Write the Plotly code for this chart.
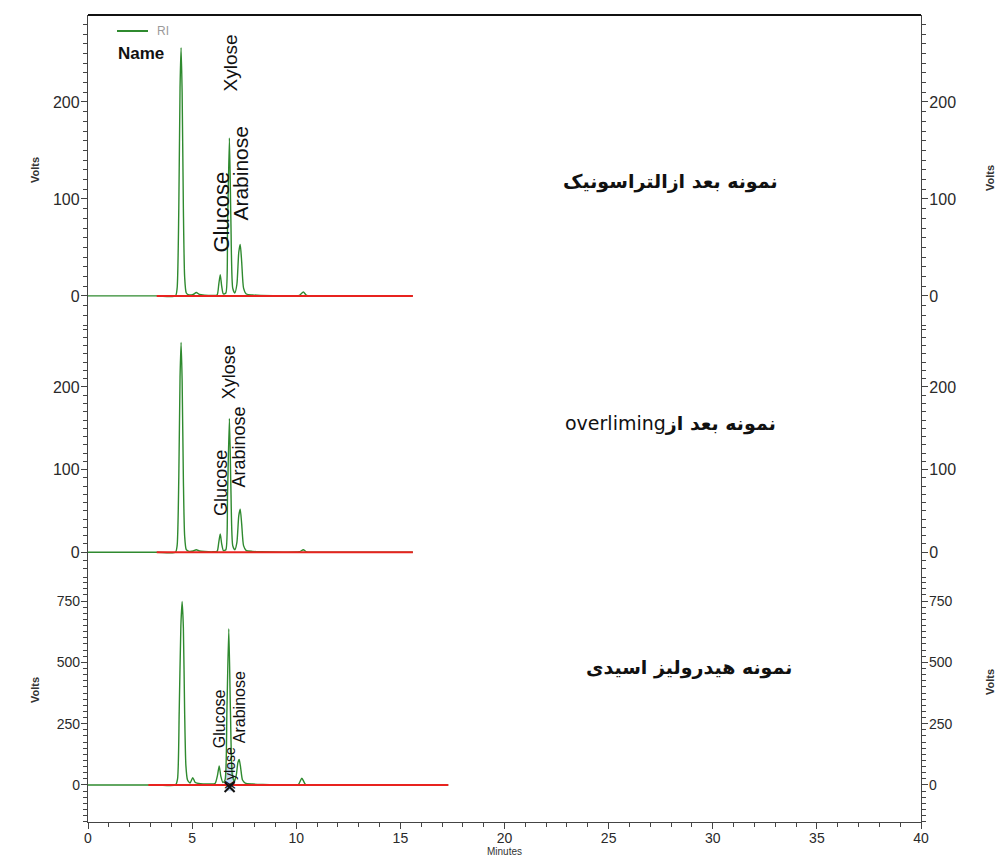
import plotly.graph_objects as go

# ---- chromatogram readings (retention time in minutes, detector signal in volts) ----
ultra_t = [0.0, 3.3, 4.20, 4.28, 4.36, 4.42, 4.47, 4.52, 4.58, 4.64, 4.72, 4.85, 5.05, 5.20, 5.35,
           5.60, 6.00, 6.20, 6.28, 6.35, 6.42, 6.50, 6.62, 6.70, 6.79, 6.86, 6.95, 7.05, 7.15, 7.24,
           7.31, 7.38, 7.47, 7.60, 7.90, 8.30, 9.50, 10.15, 10.34, 10.50, 11.50, 15.6]
ultra_v = [0, 0, 0, 8, 90, 215, 256, 210, 90, 20, 3, 1, 1.5, 3.5, 1.5,
           0.8, 0.5, 1, 12, 22, 10, 2, 3, 70, 163, 80, 8, 3, 12, 45,
           53, 35, 8, 2, 1, 0.5, 0, 0.5, 4, 0.5, 0, 0]

over_t = [0.0, 3.3, 4.20, 4.28, 4.36, 4.42, 4.47, 4.52, 4.58, 4.64, 4.72, 4.85, 5.05, 5.20, 5.35,
          5.60, 6.00, 6.20, 6.28, 6.35, 6.42, 6.50, 6.62, 6.70, 6.79, 6.86, 6.95, 7.05, 7.15, 7.24,
          7.31, 7.38, 7.47, 7.60, 7.90, 8.30, 9.50, 10.15, 10.34, 10.50, 11.50, 15.6]
over_v = [0, 0, 0, 8, 90, 212, 254, 208, 88, 20, 3, 1, 1.5, 3, 1.5,
          0.8, 0.5, 1, 12, 22, 10, 2, 3, 70, 162, 80, 8, 3, 12, 44,
          52, 34, 8, 2, 1, 0.5, 0, 0.5, 3, 0.5, 0, 0]

acid_t = [0.0, 3.3, 4.20, 4.30, 4.38, 4.46, 4.52, 4.58, 4.64, 4.70, 4.78, 4.90, 5.03, 5.15, 5.40,
          5.80, 6.10, 6.22, 6.30, 6.38, 6.48, 6.58, 6.67, 6.76, 6.84, 6.93, 7.03, 7.12, 7.20, 7.26,
          7.33, 7.42, 7.55, 7.90, 8.40, 9.50, 10.10, 10.27, 10.45, 11.50, 17.3]
acid_v = [0, 0, 0, 25, 300, 650, 748, 640, 300, 80, 20, 8, 30, 10, 5,
          4, 6, 40, 78, 35, 10, 20, 300, 637, 300, 40, 15, 40, 92, 104,
          70, 20, 8, 4, 2, 0, 2, 28, 2, 0, 0]

# integration baselines (start, end) per run
ultra_base = [3.3, 15.6]
over_base = [3.3, 15.6]
acid_base = [2.9, 17.3]

sample_names = ["نمونه بعد ازالتراسونیک", "نمونه بعد از", "نمونه هیدرولیز اسیدی"]
over_suffix = "overliming"
peak_names = ["Glucose", "Xylose", "Arabinose"]

GREEN = "#2f8a2f"
RED = "#e8231f"
AX = "#444444"
FONT = "Liberation Sans Narrow, Liberation Sans, Arial, sans-serif"

# plot-area pixel frame used to place paper-referenced decorations
W, H = 997, 861
L, R, T, B = 88, 921, 15, 822


def px(xp):
    return (xp - L) / (R - L)


def py(yp):
    return (B - yp) / (B - T)


fig = go.Figure()

runs = [(ultra_t, ultra_v, ultra_base, "y"),
        (over_t, over_v, over_base, "y2"),
        (acid_t, acid_v, acid_base, "y3")]
for t, v, base, ya in runs:
    fig.add_trace(go.Scatter(x=t, y=v, mode="lines", yaxis=ya, xaxis="x",
                             line=dict(color=GREEN, width=1.4, shape="spline", smoothing=0.6),
                             showlegend=False, hoverinfo="skip"))
    fig.add_trace(go.Scatter(x=base, y=[0, 0], mode="lines", yaxis=ya, xaxis="x",
                             line=dict(color=RED, width=2), showlegend=False, hoverinfo="skip"))

# carrier traces for the right-hand axes
for ya in ["y4", "y5", "y6"]:
    fig.add_trace(go.Scatter(x=[0, 40], y=[0, 0], mode="lines", yaxis=ya, xaxis="x",
                             line=dict(width=0), opacity=0, showlegend=False, hoverinfo="skip"))

# peak-end marker on the acid hydrolysis run
fig.add_trace(go.Scatter(x=[6.8], y=[-8], mode="markers", yaxis="y3", xaxis="x",
                         marker=dict(symbol="x-thin", size=10, line=dict(color="#111", width=2)),
                         showlegend=False, hoverinfo="skip"))

d3 = (py(822), py(577))
d2 = (py(577), py(325))
d1 = (py(325), py(15))


def yax(domain, rng, vals, minor, fsize, side="left", overlay=None):
    ax = dict(domain=list(domain), range=rng, anchor="x", side=side,
              tickmode="array", tickvals=vals, ticktext=[str(v) for v in vals],
              ticks="outside", ticklen=6, tickwidth=1, tickcolor=AX,
              ticklabelstandoff=-2,
              minor=dict(tickmode="linear", tick0=0, dtick=minor, ticks="outside",
                         ticklen=4, tickcolor=AX, tickwidth=1),
              showline=True, linecolor=AX, linewidth=1.3,
              showgrid=False, zeroline=False, automargin=False,
              tickfont=dict(family=FONT, size=fsize, color="#2a2a2a"))
    if overlay:
        ax["overlaying"] = overlay
    return ax


r1 = [-30, 289.7]
r2 = [-30, 275]
r3 = [-151, 848]
v1 = [0, 100, 200]
v3 = [0, 250, 500, 750]

fig.update_layout(
    width=W, height=H,
    margin=dict(l=L, r=W - R, t=T, b=H - B),
    paper_bgcolor="white", plot_bgcolor="white",
    xaxis=dict(domain=[0, 1], range=[0, 40], anchor="y3",
               tickmode="linear", tick0=0, dtick=5,
               ticks="outside", ticklen=6, tickcolor=AX,
               ticklabelstandoff=-3,
               minor=dict(tickmode="linear", tick0=0, dtick=1, ticks="outside",
                          ticklen=4, tickcolor=AX),
               showline=True, linecolor=AX, linewidth=1.3,
               showgrid=False, zeroline=False, automargin=False,
               tickfont=dict(family=FONT, size=14, color="#2a2a2a"),
               title=dict(text="Minutes", font=dict(family=FONT, size=10, color="#333"),
                          standoff=3)),
    yaxis=yax(d1, r1, v1, 10, 16),
    yaxis2=yax(d2, r2, v1, 10, 16),
    yaxis3=yax(d3, r3, v3, 25, 14),
    yaxis4=yax(d1, r1, v1, 10, 16, side="right", overlay="y"),
    yaxis5=yax(d2, r2, v1, 10, 16, side="right", overlay="y2"),
    yaxis6=yax(d3, r3, v3, 25, 14, side="right", overlay="y3"),
)

shapes = [
    # top frame
    dict(type="line", xref="paper", yref="paper", x0=0, x1=1, y0=1, y1=1,
         line=dict(color="#111", width=2)),
    # legend swatch
    dict(type="line", xref="paper", yref="paper", x0=px(117), x1=px(148), y0=py(31), y1=py(31),
         line=dict(color=GREEN, width=2)),
    # highlighted peak label region
    dict(type="rect", xref="x", yref="y3", x0=6.62, x1=7.0, y0=-25, y1=85,
         fillcolor="rgba(90,140,210,0.35)", line=dict(width=0), layer="below"),
]

ann = []


def label(text, x, y, ya, size):
    ann.append(dict(text=text, x=x, y=y, xref="x", yref=ya, textangle=-90, showarrow=False,
                    xanchor="center", yanchor="middle",
                    font=dict(family="Liberation Sans, Arial, sans-serif", size=size, color="#111")))


# peak labels: (name, time, height) per panel
label(peak_names[0], 6.39, 86, "y", 22)
label(peak_names[1], 6.83, 240, "y", 19)
label(peak_names[2], 7.34, 127, "y", 21)
label(peak_names[0], 6.39, 84, "y2", 18)
label(peak_names[1], 6.78, 218, "y2", 18)
label(peak_names[2], 7.26, 127, "y2", 18)
label(peak_names[0], 6.30, 269, "y3", 16)
label(peak_names[1], 6.83, 69, "y3", 14)
label(peak_names[2], 7.31, 318, "y3", 16)


def note(text, xp, yp, size, family, color="#111", angle=0, xanchor="center"):
    ann.append(dict(text=text, x=px(xp), y=py(yp), xref="paper", yref="paper",
                    xanchor=xanchor, yanchor="middle", textangle=angle, showarrow=False,
                    font=dict(family=family, size=size, color=color)))


persian = "DejaVu Sans, Noto Sans, sans-serif"
note("<b>" + sample_names[0] + "</b>", 670, 182, 19, persian)
note(over_suffix + "<b>" + sample_names[1] + "</b>", 670, 423, 19, persian)
note("<b>" + sample_names[2] + "</b>", 689, 667, 19, persian)

# axis titles
for xp, yp in [(35, 170), (35, 690), (990, 178), (990, 682)]:
    note("<b>Volts</b>", xp, yp, 11, FONT, color="#333", angle=-90)

# legend text
note("RI", 155, 31, 12, FONT, color="#9a9a9a", xanchor="left")
note("<b>Name</b>", 116, 53, 17, FONT, xanchor="left")

fig.update_layout(shapes=shapes, annotations=ann)
fig.write_html("out.html")
